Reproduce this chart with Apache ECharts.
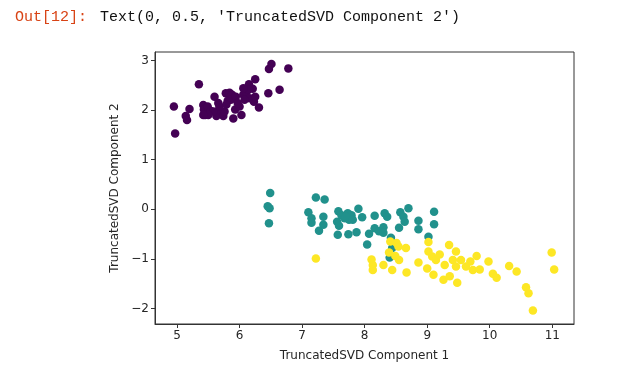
<!DOCTYPE html>
<html><head><meta charset="utf-8">
<script src="https://cdn.jsdelivr.net/npm/echarts@6/dist/echarts.min.js"></script>
<style>html,body{margin:0;padding:0;background:#fff}#c{width:636px;height:370px}</style>
</head><body><div id="c"></div>
<script>
const setosa = [[4.95,2.07],[4.97,1.53],[5.14,1.88],[5.16,1.80],[5.20,2.02],[5.35,2.52],[5.42,2.10],[5.43,2.01],[5.45,1.90],[5.49,2.07],[5.54,1.98],[5.60,2.27],[5.63,1.88],[5.66,1.99],[5.74,1.88],[5.78,2.34],[5.81,2.19],[5.84,2.35],[5.88,2.31],[5.90,1.83],[5.93,2.01],[6.00,2.07],[6.03,1.90],[6.06,2.31],[6.11,2.37],[6.15,2.52],[6.21,2.43],[6.25,2.62],[6.23,2.17],[6.31,2.05],[6.46,2.34],[6.47,2.83],[6.51,2.93],[6.64,2.41],[6.78,2.84],[5.76,1.97],[5.68,2.07],[5.86,2.21],[5.94,2.27],[5.79,2.11],[5.97,2.14],[6.16,2.24],[6.08,2.21],[6.25,2.27],[5.58,1.97],[5.50,1.90],[5.42,1.90],[5.66,2.14],[6.14,2.41],[6.06,2.44]];
const versicolor = [[6.49,0.33],[6.45,0.06],[6.48,0.02],[6.47,-0.28],[7.10,-0.06],[7.15,-0.18],[7.15,-0.27],[7.22,0.24],[7.27,-0.43],[7.34,-0.15],[7.34,-0.31],[7.36,0.20],[7.58,-0.04],[7.56,-0.25],[7.57,-0.51],[7.59,-0.33],[7.63,-0.12],[7.68,-0.18],[7.73,-0.08],[7.75,-0.21],[7.74,-0.50],[7.79,-0.12],[7.87,-0.46],[7.90,0.01],[7.96,-0.16],[8.04,-0.71],[8.07,-0.49],[8.16,-0.13],[8.16,-0.38],[8.23,-0.44],[8.30,-0.36],[8.32,-0.08],[8.36,-0.15],[8.30,-0.47],[8.42,-0.57],[8.40,-0.97],[8.44,-0.78],[8.55,-0.37],[8.57,-0.06],[8.62,-0.15],[8.64,-0.25],[8.70,0.02],[8.86,-0.23],[8.86,-0.40],[9.02,-0.55],[9.11,-0.05],[9.11,-0.30],[7.70,-0.15],[7.81,-0.21]];
const virginica = [[7.22,-0.99],[8.11,-1.01],[8.13,-1.12],[8.13,-1.22],[8.30,-1.12],[8.41,-0.65],[8.44,-1.22],[8.51,-0.68],[8.54,-0.75],[8.55,-1.02],[8.66,-0.78],[8.67,-1.27],[8.86,-1.07],[9.02,-0.66],[9.02,-0.85],[9.00,-1.19],[9.08,-0.95],[9.10,-1.32],[9.14,-1.02],[9.20,-0.91],[9.28,-1.12],[9.26,-1.42],[9.35,-0.72],[9.36,-1.35],[9.41,-1.02],[9.46,-0.85],[9.46,-1.15],[9.48,-1.48],[9.54,-1.02],[9.62,-1.15],[9.69,-1.05],[9.73,-1.22],[9.79,-0.94],[9.84,-1.21],[9.98,-1.05],[10.05,-1.30],[10.11,-1.38],[10.31,-1.14],[10.43,-1.25],[10.58,-1.57],[10.62,-1.69],[10.69,-2.04],[10.99,-0.87],[11.03,-1.21],[8.39,-0.87],[8.49,-0.94]];
const xTicks = [5,6,7,8,9,10,11];
const yTicks = [-2,-1,0,1,2,3];
const xLabel = 'TruncatedSVD Component 1';
const yLabel = 'TruncatedSVD Component 2';
const outPrompt = 'Out[12]:';
const outText = "Text(0, 0.5, 'TruncatedSVD Component 2')";

const chart = echarts.init(document.getElementById('c'));
const fmt = v => String(v).replace('-', '\u2212');
const lblFont = {color:'#262626',fontFamily:'DejaVu Sans',fontSize:12};
chart.setOption({
  animation:false,
  graphic:[
    {type:'text',left:15,top:10,style:{text:outPrompt,fill:'#d84315',font:'15px "Liberation Mono", monospace'}},
    {type:'text',left:100,top:10,style:{text:outText,fill:'#111',font:'15px "Liberation Mono", monospace'}}
  ],
  grid:{left:155,right:62,top:52,bottom:46,show:true,borderColor:'#333',borderWidth:1,containLabel:false},
  xAxis:{type:'value',min:4.648,max:11.347,name:xLabel,nameLocation:'middle',nameGap:26,
    nameTextStyle:lblFont,
    axisLine:{show:true,onZero:false,lineStyle:{color:'#333',width:1}},
    splitLine:{show:false},
    axisTick:{show:true,length:4,lineStyle:{color:'#333'},customValues:xTicks},
    axisLabel:Object.assign({margin:6,customValues:xTicks,formatter:fmt},lblFont)},
  yAxis:{type:'value',min:-2.31,max:3.17,name:yLabel,nameLocation:'middle',nameGap:33,
    nameTextStyle:lblFont,
    axisLine:{show:true,onZero:false,lineStyle:{color:'#333',width:1}},
    splitLine:{show:false},
    axisTick:{show:true,length:4,lineStyle:{color:'#333'},customValues:yTicks},
    axisLabel:Object.assign({margin:6,customValues:yTicks,formatter:fmt},lblFont)},
  series:[
    {type:'scatter',data:setosa,symbolSize:8.5,itemStyle:{color:'#440154',opacity:1}},
    {type:'scatter',data:versicolor,symbolSize:8.5,itemStyle:{color:'#21918c',opacity:1}},
    {type:'scatter',data:virginica,symbolSize:8.5,itemStyle:{color:'#fde725',opacity:1}}
  ]
});
</script></body></html>
